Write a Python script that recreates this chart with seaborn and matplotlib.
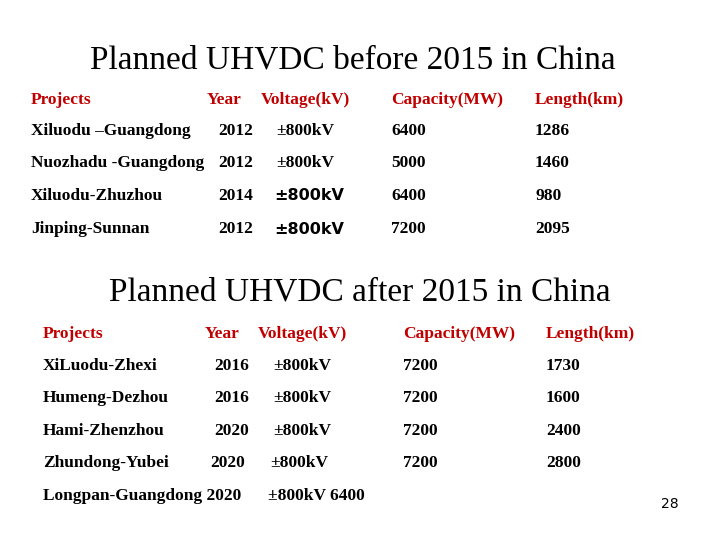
import matplotlib
matplotlib.use("Agg")
import matplotlib.pyplot as plt
import seaborn as sns

sns.set_style("white")
plt.rcParams['font.family'] = ['Liberation Serif', 'DejaVu Serif']
plt.rcParams['text.color'] = 'black'

# Table 1: before 2015
title1 = "Planned UHVDC before 2015 in China"
headers1 = ["Projects", "Year", "Voltage(kV)", "Capacity(MW)", "Length(km)"]
projects1 = ["Xiluodu \u2013Guangdong", "Nuozhadu -Guangdong", "Xiluodu-Zhuzhou", "Jinping-Sunnan"]
years1 = ["2012", "2012", "2014", "2012"]
volt1 = ["\u00b1800kV", "\u00b1800kV", "\u00b1800kV", "\u00b1800kV"]
cap1 = ["6400", "5000", "6400", "7200"]
len1 = ["1286", "1460", "980", "2095"]

# Table 2: after 2015
title2 = "Planned UHVDC after 2015 in China"
headers2 = ["Projects", "Year", "Voltage(kV)", "Capacity(MW)", "Length(km)"]
projects2 = ["XiLuodu-Zhexi", "Humeng-Dezhou", "Hami-Zhenzhou", "Zhundong-Yubei", "Longpan-Guangdong 2020"]
years2 = ["2016", "2016", "2020", "2020", ""]
volt2 = ["\u00b1800kV", "\u00b1800kV", "\u00b1800kV", "\u00b1800kV", "\u00b1800kV 6400"]
cap2 = ["7200", "7200", "7200", "7200", ""]
len2 = ["1730", "1600", "2400", "2800", ""]

W, H = 720, 540
fig = plt.figure(figsize=(7.2, 5.4), dpi=100)
ax = fig.add_axes([0, 0, 1, 1])
ax.set_xlim(0, W)
ax.set_ylim(H, 0)
ax.axis("off")

hdr_color = "#c00000"
fs = 12.5


def t(x, y, s, **kw):
    kw.setdefault("fontsize", fs)
    kw.setdefault("fontweight", "bold")
    ax.text(x, y, s, va="center", ha="left", **kw)


# Table 1
ax.text(353, 60, title1, ha="center", va="center", fontsize=24)
for x, h in zip([31, 207, 261, 391, 535], headers1):
    t(x, 100, h, color=hdr_color)
for i, y in enumerate([131, 163, 196, 229]):
    t(31, y, projects1[i])
    t(218, y, years1[i])
    if i >= 2:
        t(274, y, volt1[i], family="DejaVu Sans", fontsize=11.5)
    else:
        t(276, y, volt1[i])
    t(391, y, cap1[i])
    t(535, y, len1[i])

# Table 2
ax.text(360, 292, title2, ha="center", va="center", fontsize=24)
for x, h in zip([43, 205, 258, 403, 546], headers2):
    t(x, 334, h, color=hdr_color)
ys2 = [366, 398, 431, 463, 496]
yx = [214, 214, 214, 210, 0]
vx = [273, 273, 273, 270, 268]
for i, y in enumerate(ys2):
    t(43, y, projects2[i])
    if years2[i]:
        t(yx[i], y, years2[i])
    t(vx[i], y, volt2[i])
    if cap2[i]:
        t(403, y, cap2[i])
        t(546, y, len2[i])

ax.text(670, 504, "28", ha="center", va="center", fontsize=10, family="DejaVu Sans")

fig.savefig("out.png", dpi=100)
